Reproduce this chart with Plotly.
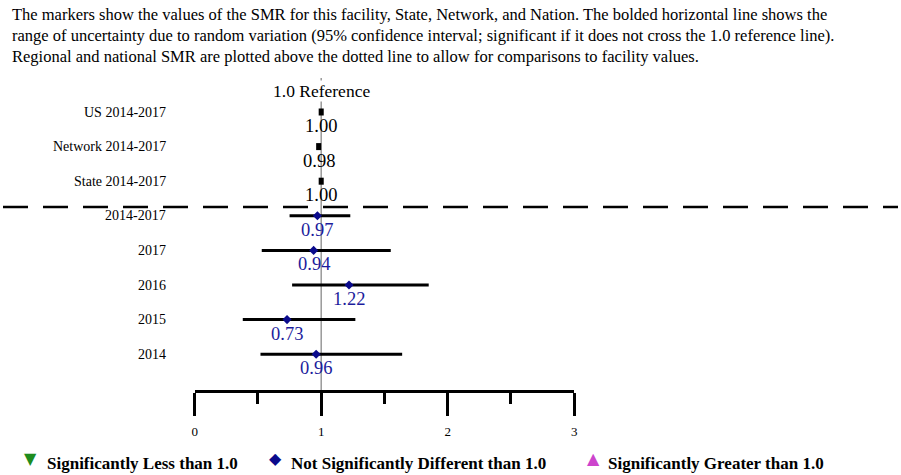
import plotly.graph_objects as go

# ---- data ----
row_labels = ["US 2014-2017", "Network 2014-2017", "State 2014-2017",
              "2014-2017", "2017", "2016", "2015", "2014"]
smr = [1.00, 0.98, 1.00, 0.97, 0.94, 1.22, 0.73, 0.96]
ci_lo = [0.98, 0.96, 0.98, 0.75, 0.53, 0.77, 0.38, 0.52]
ci_hi = [1.02, 1.00, 1.02, 1.23, 1.55, 1.85, 1.27, 1.64]
is_regional = [True, True, True, False, False, False, False, False]
major_ticks = [0, 1, 2, 3]
minor_ticks = [0.5, 1.5, 2.5]
header_lines = [
    "The markers show the values of the SMR for this facility, State, Network, and Nation. The bolded horizontal line shows the",
    "range of uncertainty due to random variation (95% confidence interval; significant if it does not cross the 1.0 reference line).",
    "Regional and national SMR are plotted above the dotted line to allow for comparisons to facility values.",
]
legend_items = [
    ("▼", "#1e8c1e", "Significantly Less than 1.0"),
    ("◆", "#0a0a8c", "Not Significantly Different than 1.0"),
    ("▲", "#cc44cc", "Significantly Greater than 1.0"),
]

# ---- layout constants (pixels) ----
W, H = 901, 475
AX_Y = 390           # pixel row of the x axis line
ROW0, ROWSTEP = 112, 34.6
X0PX, X3PX = 193, 575
FONT = "Liberation Serif, Times New Roman, serif"
NAVY = "#0a0a8c"
NAVY_TXT = "#1c1c9c"

def ypx(p):
    return (p - ROW0) / ROWSTEP

def paper_y(p):
    return (AX_Y - p) / AX_Y

fig = go.Figure()

idx = list(range(len(row_labels)))

# CI lines
for regional, width in [(True, 7), (False, 3)]:
    xs, ys = [], []
    for i in idx:
        if is_regional[i] == regional:
            xs += [ci_lo[i], ci_hi[i], None]
            ys += [i, i, None]
    fig.add_trace(go.Scatter(x=xs, y=ys, mode="lines",
                             line=dict(color="black", width=width),
                             hoverinfo="skip", showlegend=False))

# facility markers
fac = [i for i in idx if not is_regional[i]]
fig.add_trace(go.Scatter(x=[smr[i] for i in fac], y=fac, mode="markers",
                         marker=dict(symbol="diamond", size=7, color=NAVY),
                         showlegend=False))

annotations = []
# value labels
for i in idx:
    annotations.append(dict(x=smr[i], y=i, xref="x", yref="y", yshift=-14,
                            xanchor="center", yanchor="middle",
                            text=f"{smr[i]:.2f}", showarrow=False,
                            font=dict(family=FONT, size=18.5,
                                      color="black" if is_regional[i] else NAVY_TXT)))
# row labels
for i in idx:
    annotations.append(dict(x=166 / W, y=i, xref="paper", yref="y",
                            xanchor="right", yanchor="middle",
                            text=row_labels[i], showarrow=False,
                            font=dict(family=FONT, size=14, color="black")))
# reference label
annotations.append(dict(x=1, y=ypx(91), xref="x", yref="y", text="1.0 Reference",
                        xanchor="center", yanchor="middle",
                        showarrow=False, bgcolor="white", borderpad=0,
                        font=dict(family=FONT, size=17.5, color="black")))
# header
for k, line in enumerate(header_lines):
    annotations.append(dict(x=7 / W, y=paper_y(15 + k * 20.5), xref="paper", yref="paper",
                            xanchor="left", yanchor="middle", text=line, showarrow=False,
                            font=dict(family=FONT, size=16.5, color="black")))
# legend
leg_sym_x = [28, 274, 594]
leg_txt_x = [42, 288, 607]
for (sym, col, txt), sx, tx in zip(legend_items, leg_sym_x, leg_txt_x):
    annotations.append(dict(x=sx / W, y=paper_y(458), xref="paper", yref="paper",
                            xanchor="center", yanchor="middle",
                            text=sym, showarrow=False,
                            font=dict(family="DejaVu Sans", size=16, color=col)))
    annotations.append(dict(x=tx / W, y=paper_y(463), xref="paper", yref="paper",
                            xanchor="left", yanchor="middle",
                            text=f"<b>{txt}</b>", showarrow=False,
                            font=dict(family=FONT, size=17, color="black")))

shapes = [
    # reference line
    dict(type="line", xref="x", yref="y", x0=1, x1=1, y0=ypx(78), y1=ypx(AX_Y),
         line=dict(color="#999999", width=1.5), layer="below"),
    # dashed separator
    dict(type="line", xref="paper", yref="paper", x0=0, x1=1,
         y0=paper_y(207), y1=paper_y(207),
         line=dict(color="black", width=2.5, dash="25px,15px")),
]

fig.update_layout(
    width=W, height=H,
    margin=dict(l=0, r=0, t=0, b=H - AX_Y, pad=0),
    plot_bgcolor="white", paper_bgcolor="white",
    annotations=annotations, shapes=shapes,
    xaxis=dict(domain=[X0PX / W, X3PX / W], range=[0, 3],
               showgrid=False, zeroline=False,
               showline=True, linecolor="black", linewidth=3,
               ticks="outside", ticklen=23, tickwidth=3, tickcolor="black",
               tickvals=major_ticks, ticktext=[str(t) for t in major_ticks],
               ticklabelstandoff=4,
               tickfont=dict(family=FONT, size=13, color="black"),
               minor=dict(tickvals=minor_ticks, ticks="outside", ticklen=11,
                          tickwidth=3, tickcolor="black", showgrid=False)),
    yaxis=dict(range=[ypx(AX_Y), ypx(0)], visible=False, showgrid=False, zeroline=False),
)

fig.write_html("out.html", config={"displayModeBar": False},
               post_script="document.body.style.margin='0';document.body.style.overflow='hidden';")
